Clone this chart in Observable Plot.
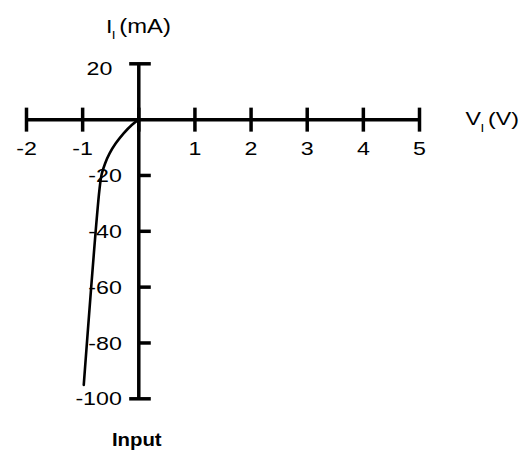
<!DOCTYPE html>
<html>
<head>
<meta charset="utf-8">
<script src="https://cdn.jsdelivr.net/npm/d3@7"></script>
<script src="https://cdn.jsdelivr.net/npm/@observablehq/plot@0.6"></script>
<style>
  html, body { margin: 0; padding: 0; background: #fff; }
</style>
</head>
<body>
<div id="chart"></div>
<script>
// ---- data ----
const xTicks = [-2, -1, 0, 1, 2, 3, 4, 5];
const xTickLabels = ["-2", "-1", "", "1", "2", "3", "4", "5"];
const yTicks = [20, -20, -40, -60, -80, -100];
const yTickLabels = ["20", "-20", "-40", "-60", "-80", "-100"];
const curveV = [0, -0.12, -0.27, -0.41, -0.52, -0.6, -0.66, -0.7, -0.98];
const curveI = [0, -1.8, -4.9, -8.5, -12.1, -15.7, -19.5, -25, -95];
const yTitle = {main: "I", sub: "I", unit: "(mA)"};
const xTitle = {main: "V", sub: "I", unit: "(V)"};
const caption = "Input";

// ---- derived tables ----
const xMin = d3.min(xTicks), xMax = d3.max(xTicks);
const yMin = d3.min(yTicks), yMax = d3.max(yTicks);
const curve = curveV.map((v, i) => ({v, i: curveI[i]}));
const xLab = xTicks.map((x, k) => ({x, label: xTickLabels[k]})).filter(d => d.label);
const yLab = yTicks.map((y, k) => ({y, label: yTickLabels[k]}));
const yEnds = yLab.filter(d => d.y === yMin || d.y === yMax);
const yMid = yLab.filter(d => d.y !== yMin && d.y !== yMax);

// tick symbols
const rOf = size => Math.sqrt(size / Math.PI);
const vBar = {draw(ctx, size) { const r = rOf(size); ctx.moveTo(0, -r); ctx.lineTo(0, r); }};
const hRight = {draw(ctx, size) { const r = rOf(size); ctx.moveTo(0, 0); ctx.lineTo(r, 0); }};
const hCap = {draw(ctx, size) { const r = rOf(size); ctx.moveTo(-0.8 * r, 0); ctx.lineTo(r, 0); }};

const font = "'Liberation Sans', Arial, Helvetica, sans-serif";
const fs = 19;
const black = "#000";

const chart = Plot.plot({
  width: 521,
  height: 454,
  margin: 0,
  style: {fontFamily: font, background: "#fff", color: black},
  x: {domain: [xMin, xMax], range: [26, 419], axis: null},
  y: {domain: [yMin, yMax], range: [398.3, 63.3], axis: null},
  marks: [
    // axes lines
    Plot.ruleY([0], {x1: xMin, x2: xMax, stroke: black, strokeWidth: 3.5}),
    Plot.ruleX([0], {y1: yMin, y2: yMax, stroke: black, strokeWidth: 3.5}),
    // x ticks
    Plot.dot(xTicks, {x: d => d, y: () => 0, symbol: vBar, r: 12, fill: "none", stroke: black, strokeWidth: 3.5}),
    // y ticks
    Plot.dot(yMid, {x: () => 0, y: "y", symbol: hRight, r: 12, fill: "none", stroke: black, strokeWidth: 3.5}),
    Plot.dot(yEnds, {x: () => 0, y: "y", symbol: hCap, r: 12, fill: "none", stroke: black, strokeWidth: 3.5}),
    // curve
    Plot.line(curve, {x: "v", y: "i", curve: "catmull-rom", stroke: black, strokeWidth: 2.6}),
    // x tick labels
    Plot.text(xLab, {x: "x", y: () => 0, text: "label", dy: 29, lineAnchor: "middle", fontSize: fs, fill: black}),
    // y tick labels
    Plot.text(yLab.filter(d => d.y !== yMax), {x: () => 0, y: "y", text: "label", textAnchor: "end", dx: -17, dy: 0.5, lineAnchor: "middle", fontSize: fs, fill: black}),
    Plot.text(yLab.filter(d => d.y === yMax), {x: () => 0, y: "y", text: "label", textAnchor: "end", dx: -26.5, dy: 5, lineAnchor: "middle", fontSize: fs, fill: black}),
    // y title
    Plot.text([yTitle], {x: () => 0, y: () => yMax, text: "main", textAnchor: "start", lineAnchor: "bottom", dx: -32.7, dy: -31.3, fontSize: 19, fill: black}),
    Plot.text([yTitle], {x: () => 0, y: () => yMax, text: "sub", textAnchor: "start", lineAnchor: "bottom", dx: -27, dy: -25.3, fontSize: 11, fill: black}),
    Plot.text([yTitle], {x: () => 0, y: () => yMax, text: "unit", textAnchor: "start", lineAnchor: "bottom", dx: -19.5, dy: -31.3, fontSize: 19.5, fill: black}),
    // x title
    Plot.text([xTitle], {x: () => xMax, y: () => 0, text: "main", textAnchor: "start", lineAnchor: "bottom", dx: 46, dy: 5.7, fontSize: 19, fill: black}),
    Plot.text([xTitle], {x: () => xMax, y: () => 0, text: "sub", textAnchor: "start", lineAnchor: "bottom", dx: 61, dy: 12.4, fontSize: 11, fill: black}),
    Plot.text([xTitle], {x: () => xMax, y: () => 0, text: "unit", textAnchor: "start", lineAnchor: "bottom", dx: 68.5, dy: 5.7, fontSize: 19, fill: black}),
    // caption
    Plot.text([caption], {x: () => 0, y: () => yMin, text: d => d, textAnchor: "middle", lineAnchor: "bottom", dx: -2, dy: 46.7, fontSize: 18.5, fontWeight: "bold", fill: black})
  ]
});
document.getElementById("chart").append(chart);

// The reference typeface is set wider than Liberation Sans: widen glyphs a little.
chart.querySelectorAll("text").forEach(t => {
  const len = t.getComputedTextLength();
  if (!len) return;
  const fw = t.closest("[font-weight]");
  const bold = fw && fw.getAttribute("font-weight") === "bold";
  const k = bold ? 1.1 : 1.22;
  t.setAttribute("textLength", (len * k).toFixed(2));
  t.setAttribute("lengthAdjust", "spacingAndGlyphs");
});
</script>
</body>
</html>
